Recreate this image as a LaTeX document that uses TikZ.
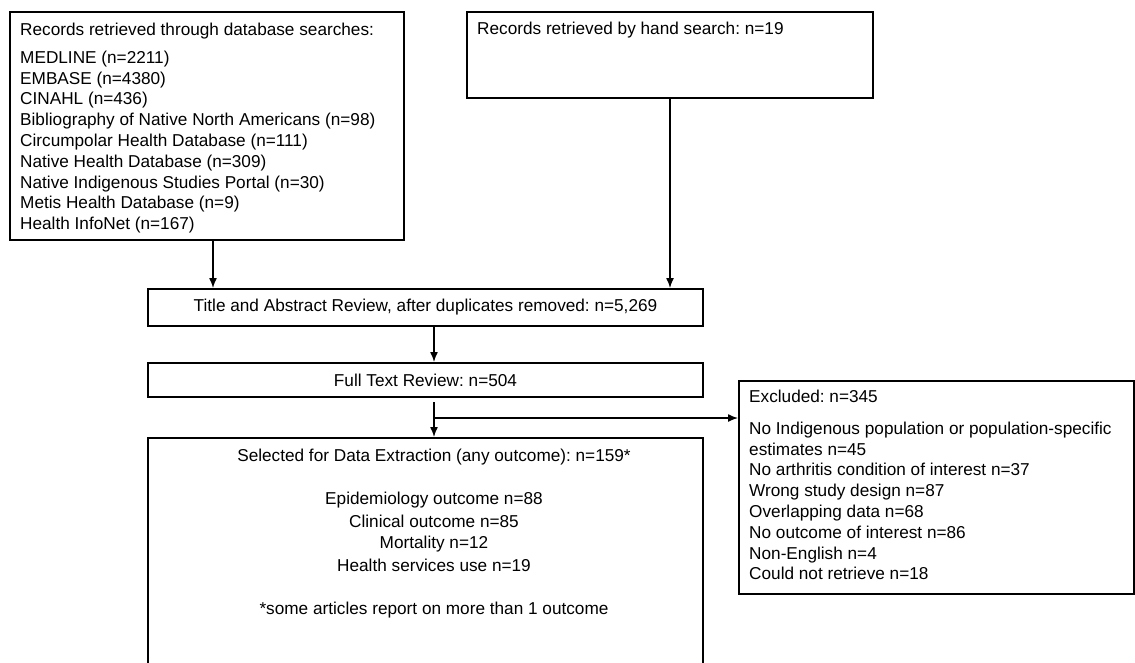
\documentclass[tikz,border=0pt]{standalone}
\usepackage{fontspec}
\setmainfont{Liberation Sans}
\usetikzlibrary{positioning, arrows.meta}
\frenchspacing

\begin{document}
\begin{tikzpicture}[x=1pt, y=-1pt,
  box/.style={draw, line width=2pt, inner sep=0pt, anchor=north west},
  lbl/.style={inner sep=0pt, font=\fontsize{17.2}{20.8}\selectfont},
  conn/.style={-{Latex[length=10pt, width=8pt]}, line width=1.4pt}]
  \useasboundingbox (0,0) rectangle (1135,662);%
  \clip (0,0) rectangle (1135,662);%

  % Searches
  % -- databases
  \node [box, minimum width=394pt, minimum height=228pt] (DB) at (9,11) {};%
  \node [lbl, align=left, anchor=north west] (DBtxt) at ([xshift=11pt,
  yshift=-11.7pt]DB.north west) {Records retrieved through database
    searches:\\[7.2pt]
    MEDLINE (n=2211)\\
    EMBASE (n=4380)\\
    CINAHL (n=436)\\
    Bibliography of Native North Americans (n=98)\\
    Circumpolar Health Database (n=111)\\
    Native Health Database (n=309)\\
    Native Indigenous Studies Portal (n=30)\\
    Metis Health Database (n=9)\\
    Health InfoNet (n=167)};%
  % -- hand search
  \node [box, minimum width=406pt, minimum height=86pt] (HS) at (466,11) {};%
  \node [lbl, anchor=base west] (HStxt) at ([xshift=11pt,
  yshift=-23pt]HS.north west) {Records retrieved by hand search: n=19};%

  % Reviews
  \node [box, lbl, minimum width=555pt, minimum height=37pt] (TA) at
  (147,288) {Title and Abstract Review, after duplicates removed: n=5,269};%
  \node [box, lbl, minimum width=555pt, minimum height=34pt] (FT) at
  (147,362) {Full Text Review: n=504};%

  % Selected
  \node [box, minimum width=555pt, minimum height=300pt] (SE) at (147,437)
  {};%
  \node [lbl, align=center, anchor=north] (SEtxt) at ([xshift=8.5pt,
  yshift=-11.5pt]SE.north) {Selected for Data Extraction (any outcome):
    n=159*\\[23pt]
    Epidemiology outcome n=88\\[1.5pt]
    Clinical outcome n=85\\[0.5pt]
    Mortality n=12\\[2.5pt]
    Health services use n=19\\[22pt]
    *some articles report on more than 1 outcome};%

  % Excluded
  \node [box, minimum width=395pt, minimum height=213pt] (EX) at (738,380)
  {};%
  \node [lbl, align=left, anchor=north west] (EXtxt) at ([xshift=11pt,
  yshift=-9.8pt]EX.north west) {Excluded: n=345\\[11pt]
    No Indigenous population or population-specific\\
    estimates n=45\\
    No arthritis condition of interest n=37\\
    Wrong study design n=87\\
    Overlapping data n=68\\
    No outcome of interest n=86\\
    Non-English n=4\\
    Could not retrieve n=18};%

  % arrows
  \coordinate (split) at ([xshift=8.5pt, yshift=-20pt]FT.south);%
  \draw [conn] ([xshift=6pt]DB.south) -- ([xshift=6pt]DB.south |- TA.north);%
  \draw [conn] (HS.south) -- (HS.south |- TA.north);%
  \draw [conn] ([xshift=8.5pt]TA.south) -- ([xshift=8.5pt]TA.south |-
  FT.north);%
  \draw [conn] ([xshift=8.5pt, yshift=-4pt]FT.south) -- (split |- SE.north);%
  \draw [conn] (split) -- (split -| EX.west);%
\end{tikzpicture}
\end{document}
